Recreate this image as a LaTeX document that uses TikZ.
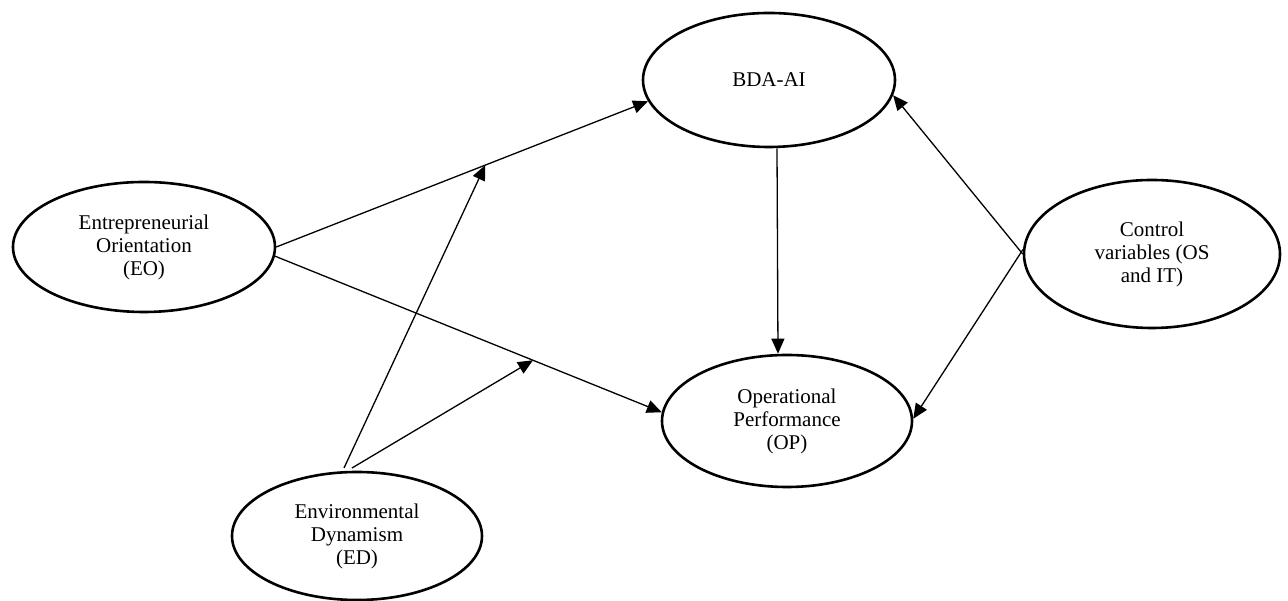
\documentclass[tikz,border=0pt]{standalone}
\usepackage{fontspec}
\setmainfont{Liberation Serif}
\usetikzlibrary{shapes.geometric,arrows.meta,calc}
\begin{document}
\begin{tikzpicture}[x=1pt,y=1pt,
  construct/.style={draw, ellipse, line width=2.6pt, inner sep=0pt, align=center,
    font=\fontsize{21}{23}\selectfont},
  link/.style={line width=1.3pt, -{Triangle[length=15pt,width=13pt]}}]
\useasboundingbox (0,0) rectangle (1288,601);
\node[construct, minimum width=262, minimum height=130] (eo) at (144,354) {Entrepreneurial\\Orientation\\(EO)};
\node[construct, minimum width=252, minimum height=134] (bda) at (769,521) {BDA-AI};
\node[construct, minimum width=250, minimum height=132] (op) at (787,180) {Operational\\Performance\\(OP)};
\node[construct, minimum width=256, minimum height=148] (cv) at (1152,347) {Control\\variables (OS\\and IT)};
\node[construct, minimum width=250, minimum height=128] (ed) at (357,65) {Environmental\\Dynamism\\(ED)};
\draw[link] (eo.east) -- (bda.190);
\draw[link] (eo.-4) -- (op.176);
\draw[link] (bda.south -| 777,0) -- (op.north -| 778,0);
\draw[link] (cv.west) -- (bda.-7);
\draw[link] (cv.178) -- (op.1);
\coordinate (m1) at ($(eo.east)!0.562!(bda.190)$);
\coordinate (m2) at ($(eo.-4)!0.667!(op.176)$);
\coordinate (s1) at (344,133);
\coordinate (s2) at (352,133);
\draw[link] (s1) -- (m1);
\draw[link] (s2) -- (m2);
\end{tikzpicture}
\end{document}
